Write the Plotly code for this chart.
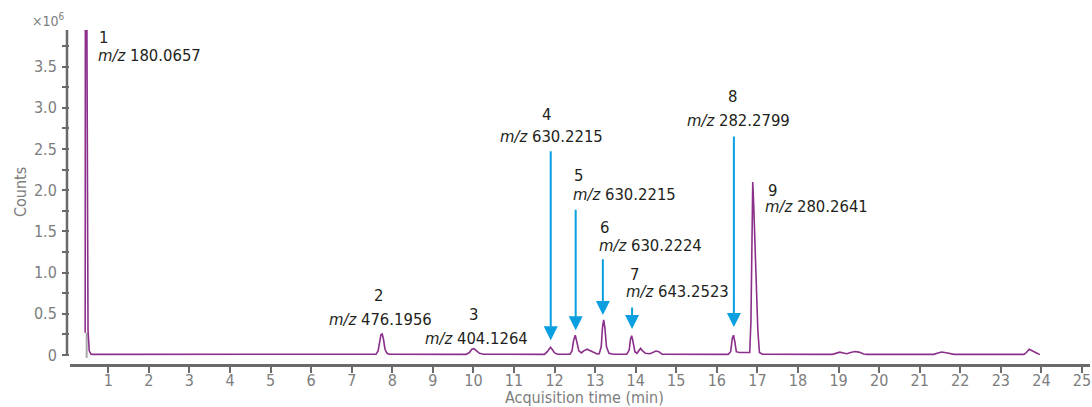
import plotly.graph_objects as go

# ---- data (retention time in min, counts in units of 1e6) ----
time_min = [
    0.43, 0.435, 0.47, 0.50, 0.53, 0.57, 0.60,
    7.55, 7.60, 7.65, 7.69, 7.72, 7.75, 7.78, 7.82, 7.87, 7.93,
    9.82, 9.90, 9.96, 10.01, 10.07, 10.15, 10.25,
    11.75, 11.82, 11.87, 11.90, 11.94, 12.00, 12.08,
    12.38, 12.43, 12.47, 12.51, 12.55, 12.60, 12.66,
    12.72, 12.80, 12.88, 12.98, 13.05,
    13.10, 13.15, 13.18, 13.21, 13.24, 13.28, 13.34, 13.45,
    13.78, 13.84, 13.87, 13.90, 13.93, 13.98, 14.03,
    14.08, 14.12, 14.17, 14.24, 14.35,
    14.42, 14.50, 14.57, 14.65,
    16.28, 16.34, 16.38, 16.41, 16.44, 16.48, 16.55, 16.75,
    16.81, 16.84, 16.86, 16.885, 16.91, 16.96, 17.01, 17.05, 17.12,
    18.85, 18.95, 19.03, 19.12, 19.20,
    19.30, 19.40, 19.50, 19.62, 19.70,
    21.35, 21.45, 21.54, 21.65, 21.78, 21.85,
    23.57, 23.63, 23.70, 23.74, 23.80, 23.88, 23.96,
]
counts_1e6 = [
    0.27, 4.30, 4.30, 0.30, 0.05, 0.012, 0.008,
    0.008, 0.010, 0.05, 0.17, 0.245, 0.255, 0.20, 0.07, 0.02, 0.009,
    0.008, 0.03, 0.07, 0.077, 0.055, 0.02, 0.009,
    0.008, 0.04, 0.085, 0.093, 0.07, 0.025, 0.010,
    0.010, 0.05, 0.18, 0.24, 0.17, 0.05, 0.025,
    0.05, 0.07, 0.05, 0.02, 0.012,
    0.015, 0.10, 0.33, 0.425, 0.33, 0.10, 0.02, 0.010,
    0.010, 0.06, 0.19, 0.235, 0.17, 0.04, 0.02,
    0.05, 0.08, 0.05, 0.02, 0.015,
    0.03, 0.048, 0.04, 0.010,
    0.008, 0.04, 0.20, 0.24, 0.17, 0.04, 0.03, 0.025,
    0.03, 0.40, 1.60, 2.10, 1.80, 1.00, 0.30, 0.03, 0.010,
    0.008, 0.025, 0.035, 0.025, 0.015,
    0.03, 0.042, 0.035, 0.012, 0.008,
    0.008, 0.025, 0.037, 0.028, 0.010, 0.008,
    0.008, 0.03, 0.07, 0.06, 0.035, 0.025, 0.005,
]

# grey injection marker near peak 1
marker_time = [0.467, 0.467]
marker_counts = [0.27, -0.035]

# peak labels
peak_ids = ["1", "2", "3", "4", "5", "6", "7", "8", "9"]
peak_mz = ["180.0657", "476.1956", "404.1264", "630.2215", "630.2215",
           "630.2224", "643.2523", "282.2799", "280.2641"]

# arrows (peak 4..8): x, tail y, tip y (counts 1e6)
arrow_x = [11.905, 12.52, 13.19, 13.91, 16.42]
arrow_tail = [2.49, 1.78, 1.18, 0.595, 2.67]
arrow_tip = [0.18, 0.30, 0.485, 0.315, 0.34]

x_ticks = list(range(1, 26))
y_major = [0, 0.5, 1.0, 1.5, 2.0, 2.5, 3.0, 3.5]
y_major_text = ["0", "0.5", "1.0", "1.5", "2.0", "2.5", "3.0", "3.5"]
y_minor = [0.25, 0.75, 1.25, 1.75, 2.25, 2.75, 3.25, 3.75]

# ---- geometry helpers (pixel -> data) ----
PX0, PX_PER_MIN = 108.3, 40.57
PY0, PY_PER_U = 355.0, 82.4
def tx(px):
    return 1 + (px - PX0) / PX_PER_MIN
def vy(py):
    return (PY0 - py) / PY_PER_U

FONT = "DejaVu Sans Condensed, Roboto, sans-serif"
PURPLE = "#8b2f8b"
BLUE = "#0a9fe0"
AXIS = "#6a6a6a"
TICKTXT = "#7d7d7d"
TXT = "#231f20"
LABEL_SIZE = 16.5

fig = go.Figure()
fig.add_trace(go.Scatter(x=marker_time, y=marker_counts, mode="lines",
                         line=dict(color="#a8a8a8", width=2), hoverinfo="skip",
                         showlegend=False))
fig.add_trace(go.Scatter(x=time_min, y=counts_1e6, mode="lines",
                         line=dict(color=PURPLE, width=1.6), showlegend=False))

annotations = []
# arrows
for x, t0, t1 in zip(arrow_x, arrow_tail, arrow_tip):
    annotations.append(dict(x=x, y=t1, ax=x, ay=t0, xref="x", yref="y",
                            axref="x", ayref="y", showarrow=True, text="",
                            arrowhead=2, arrowsize=1.4, arrowwidth=2,
                            arrowcolor=BLUE))

# label layout: (num_px_x, num_px_y, num_anchor, mz_px_x, mz_px_y, mz_anchor)
label_pos = [
    (96.5, 37, "left", 95.5, 55, "left"),
    (378.3, 295, "center", 380, 319.3, "center"),
    (473.3, 314, "center", 476.7, 338.3, "center"),
    (546.7, 114, "center", 551.7, 136.7, "center"),
    (572, 175.7, "left", 571, 194.3, "left"),
    (598, 227.7, "left", 597.3, 245, "left"),
    (627.5, 274.3, "left", 624, 291.7, "left"),
    (732.3, 96, "center", 738, 120.7, "center"),
    (766, 190, "left", 763.3, 206.5, "left"),
]
for pid, mz, (nx, ny, na, mx, my, ma) in zip(peak_ids, peak_mz, label_pos):
    annotations.append(dict(x=tx(nx), y=vy(ny), xref="x", yref="y", text=pid,
                            showarrow=False, xanchor=na, yanchor="middle",
                            font=dict(family=FONT, size=LABEL_SIZE, color=TXT)))
    annotations.append(dict(x=tx(mx), y=vy(my), xref="x", yref="y",
                            text="<i>m/z</i> " + mz,
                            showarrow=False, xanchor=ma, yanchor="middle",
                            font=dict(family=FONT, size=LABEL_SIZE, color=TXT)))

# axis titles / multiplier
annotations.append(dict(x=(584 - 70) / 1020, y=(364 - 397) / 334, xref="paper",
                        yref="paper", text="Acquisition time (min)", showarrow=False,
                        xanchor="center", yanchor="middle",
                        font=dict(family=FONT, size=16, color=TICKTXT)))
annotations.append(dict(x=(20 - 70) / 1020, y=(364 - 192) / 334, xref="paper",
                        yref="paper", text="Counts", showarrow=False, textangle=-90,
                        xanchor="center", yanchor="middle",
                        font=dict(family=FONT, size=16, color=TICKTXT)))
annotations.append(dict(x=(30 - 70) / 1020, y=(364 - 20) / 334, xref="paper",
                        yref="paper", text="×10<sup>6</sup>", showarrow=False,
                        xanchor="left", yanchor="middle",
                        font=dict(family=FONT, size=14, color=TICKTXT)))

fig.update_layout(
    width=1092, height=407,
    margin=dict(l=70, r=2, t=30, b=43),
    paper_bgcolor="white", plot_bgcolor="white",
    annotations=annotations,
    shapes=[dict(type="line", xref="paper", yref="y", x0=-3 / 1020, x1=-3 / 1020,
                 y0=0, y1=vy(30), line=dict(color=AXIS, width=2.5))],
    xaxis=dict(range=[tx(70), tx(1090)], tickmode="array", tickvals=x_ticks,
               ticktext=[str(v) for v in x_ticks], ticks="outside", ticklen=6,
               tickwidth=2, tickcolor=AXIS, showline=True, linecolor=AXIS,
               linewidth=2.5, showgrid=False, zeroline=False, automargin=False,
               ticklabelstandoff=-6,
               tickfont=dict(family=FONT, size=16, color=TICKTXT)),
    yaxis=dict(range=[vy(364), vy(30)], tickmode="array", tickvals=y_major,
               ticktext=y_major_text, ticks="outside", ticklen=7, tickwidth=2,
               tickcolor=AXIS, showline=False, showgrid=False, zeroline=False,
               automargin=False, ticklabelstandoff=2,
               tickfont=dict(family=FONT, size=16, color=TICKTXT),
               minor=dict(tickmode="array", tickvals=y_minor, ticks="outside",
                          ticklen=7, tickwidth=2, tickcolor=AXIS, showgrid=False)),
)

fig.write_html("out.html", config={"displayModeBar": False},
               post_script="document.body.style.margin='0px';")
